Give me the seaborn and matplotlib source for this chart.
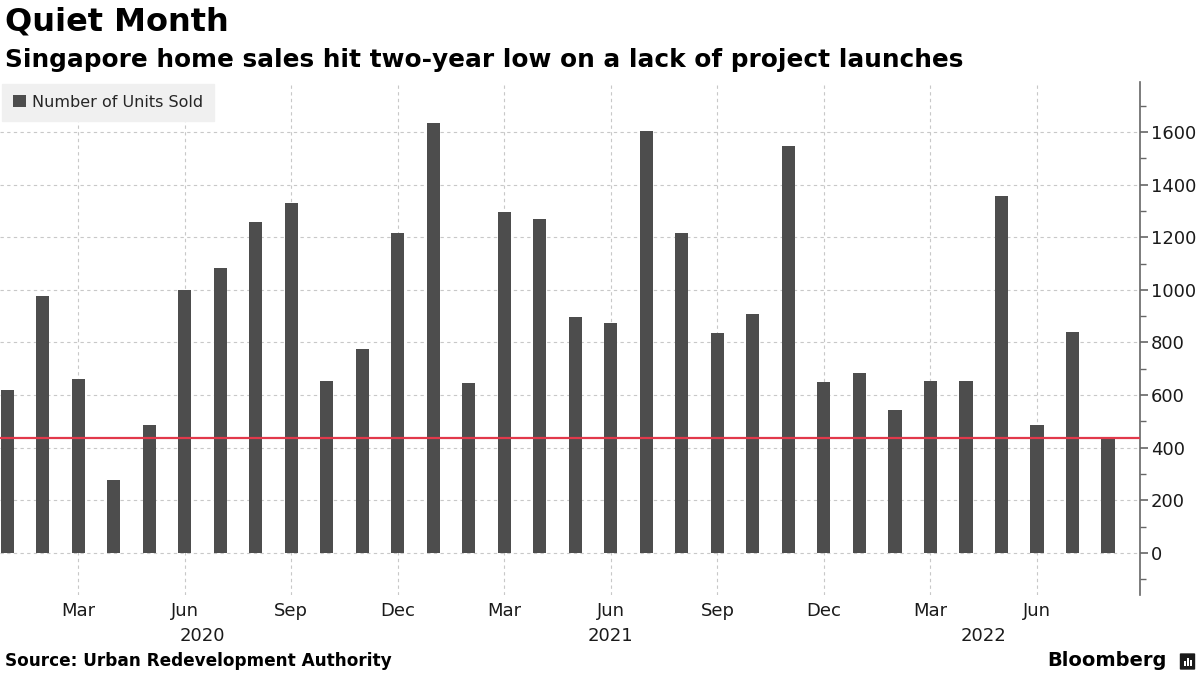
import matplotlib
matplotlib.use("Agg")
import matplotlib.pyplot as plt
import matplotlib.transforms as mtransforms
from matplotlib.patches import Patch, FancyBboxPatch, Rectangle
from matplotlib.ticker import MultipleLocator, FixedLocator
import seaborn as sns
import pandas as pd

# ---- data ----
months = ["Jan", "Feb", "Mar", "Apr", "May", "Jun", "Jul", "Aug", "Sep", "Oct", "Nov", "Dec"] * 2 + \
         ["Jan", "Feb", "Mar", "Apr", "May", "Jun", "Jul", "Aug"]
years = [2020] * 12 + [2021] * 12 + [2022] * 8
units_sold = [620, 977, 662, 278, 487, 1000, 1084, 1259, 1331, 654, 776, 1217,
              1635, 646, 1297, 1270, 897, 875, 1605, 1217, 836, 909, 1548, 650,
              684, 544, 654, 654, 1357, 487, 840, 437]
tick_months = ["Mar", "Jun", "Sep", "Dec"]
year_labels = ["2020", "2021", "2022"]
year_label_pos = [5.5, 17.0, 27.5]
y_ticks = [0, 200, 400, 600, 800, 1000, 1200, 1400, 1600]

df = pd.DataFrame({"period": [f"{m} {y}" for m, y in zip(months, years)],
                   "units": units_sold})

sns.set_theme(style="white")
plt.rcParams["font.family"] = ["DejaVu Sans"]

BAR = "#4d4d4d"
RED = "#e2394b"
GRID = "#c8c8c8"

fig = plt.figure(figsize=(12, 6.75), dpi=100)
ax = fig.add_axes([0.0, 0.1185, 0.95, 0.76])

sns.barplot(data=df, x="period", y="units", color=BAR, width=0.37,
            saturation=1, linewidth=0, edgecolor="none", ax=ax, zorder=3)

# latest value reference line
ax.axhline(units_sold[-1], color=RED, lw=1.6, zorder=4)

ax.set_xlim(-0.2, 31.9)
ax.set_ylim(-160, 1790)

# x ticks: quarterly month labels
xt = [i for i, m in enumerate(months) if m in tick_months]
ax.xaxis.set_major_locator(FixedLocator(xt))
ax.set_xticklabels([months[i] for i in xt])
ax.tick_params(axis="x", length=0, pad=5, labelsize=13, labelcolor="#1a1a1a")

# year labels
trans = mtransforms.blended_transform_factory(ax.transData, ax.transAxes)
for lab, pos in zip(year_labels, year_label_pos):
    ax.text(pos, -0.062, lab, transform=trans, ha="center", va="top",
            fontsize=13, color="#1a1a1a")

# y axis on right
ax.yaxis.tick_right()
ax.yaxis.set_major_locator(FixedLocator(y_ticks))
ax.yaxis.set_minor_locator(MultipleLocator(100))
ax.set_yticklabels([str(v) for v in y_ticks])
ax.tick_params(axis="y", which="major", direction="out", length=6, width=1.2,
               color="#666666", labelsize=13, labelcolor="#1a1a1a", pad=2)
ax.tick_params(axis="y", which="minor", direction="out", length=4, width=1,
               color="#666666", right=True, left=False)

ax.set_xlabel("")
ax.set_ylabel("")

for s in ["top", "left", "bottom"]:
    ax.spines[s].set_visible(False)
ax.spines["right"].set_color("#666666")
ax.spines["right"].set_linewidth(1.2)

ax.grid(True, axis="both", which="major", color=GRID, linestyle=(0, (3, 3)),
        linewidth=0.8, zorder=0)
ax.set_axisbelow(True)

# legend
handle = Patch(facecolor=BAR, edgecolor="none")
leg = ax.legend([handle], ["Number of Units Sold"], loc="upper left",
                bbox_to_anchor=(0.0, 1.0), borderaxespad=0.1, frameon=True,
                fontsize=11.5, handlelength=0.8, handleheight=0.8,
                handletextpad=0.4, borderpad=0.7, fancybox=False)
leg.get_frame().set_facecolor("#f0f0f0")
leg.get_frame().set_edgecolor("#f0f0f0")
leg.get_frame().set_alpha(1)
leg.set_zorder(10)

# titles & footer
fig.text(0.004, 1 - 22 / 675, "Quiet Month", fontsize=23, fontweight="bold",
         ha="left", va="center", color="black")
fig.text(0.004, 1 - 60 / 675,
         "Singapore home sales hit two-year low on a lack of project launches",
         fontsize=17.8, fontweight="bold", ha="left", va="center", color="black")
fig.text(0.004, 1 - 661 / 675, "Source: Urban Redevelopment Authority",
         fontsize=12.2, fontweight="bold", ha="left", va="center", color="black")
fig.text(0.972, 1 - 661 / 675, "Bloomberg", fontsize=14, fontweight="bold",
         ha="right", va="center", color="black")

# small logo mark
logo = FancyBboxPatch((1181 / 1200, 1 - 669 / 675), 13 / 1200, 15 / 675,
                      boxstyle="round,pad=0.001", transform=fig.transFigure,
                      facecolor="#1a1a1a", edgecolor="none")
fig.add_artist(logo)
for k, h in enumerate([5, 8, 6]):
    fig.add_artist(Rectangle(((1184 + k * 3) / 1200, 1 - 666 / 675), 1.5 / 1200,
                             h / 675, transform=fig.transFigure,
                             facecolor="white", edgecolor="none"))

fig.savefig("out.png", dpi=100)
